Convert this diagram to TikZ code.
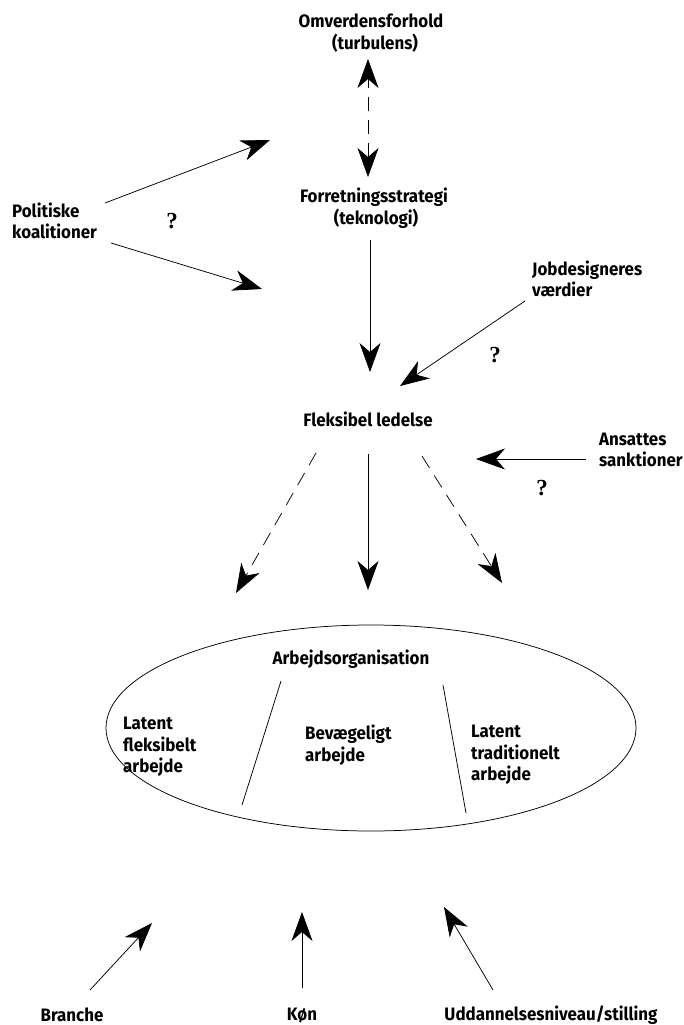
\documentclass[tikz,border=0pt]{standalone}
\usepackage{fontspec}
\usetikzlibrary{arrows.meta,shapes.geometric}
\newfontfamily\diafont{Fira Sans}[FakeStretch=0.94]
\newfontfamily\qfont{Liberation Serif}

\begin{document}
\begin{tikzpicture}[x=1pt,y=-1pt,
    txt/.style={font=\diafont\bfseries\fontsize{18}{21.5}\selectfont, inner sep=0pt},
    qm/.style={font=\qfont\bfseries\fontsize{23}{28}\selectfont, inner sep=0pt},
    arr/.style={line width=0.75pt, -{Stealth[length=29pt,width=21pt,inset=9pt]}},
    darr/.style={arr, dash pattern=on 14pt off 9pt}]
  \useasboundingbox (0,0) rectangle (683,1025);

  % top chain
  \node[txt, align=center] (omv) at (371,33) {Omverdensforhold\\\hspace*{8pt}(turbulens)};
  \node[txt, align=center] (fs) at (374,208) {Forretningsstrategi\\\hspace*{4pt}(teknologi)};
  \node[txt] (fl) at (368,419) {Fleksibel ledelse};

  \coordinate (omv-s) at (368,59);
  \coordinate (fs-n) at (368,177);
  \draw[darr, {Stealth[length=29pt,width=21pt,inset=9pt]}-{Stealth[length=29pt,width=21pt,inset=9pt]}] (fs-n) -- (omv-s);

  \coordinate (fs-s) at (370,240);
  \coordinate (fl-n) at (370,372);
  \draw[arr] (fs-s) -- (fl-n);

  % political coalitions
  \node[txt, anchor=west, align=left] (pol) at (12,221) {Politiske\\koalitioner};
  \coordinate (pol-a) at (105,203);
  \coordinate (pol-ae) at (270,140);
  \coordinate (pol-b) at (111,243);
  \coordinate (pol-be) at (262,289);
  \draw[arr] (pol-a) -- (pol-ae);
  \draw[arr] (pol-b) -- (pol-be);
  \node[qm] (q1) at (172,221) {?};

  % job designers
  \node[txt, anchor=west, align=left] (jd) at (532,279) {Jobdesigneres\\værdier};
  \coordinate (jd-s) at (525,301);
  \coordinate (jd-e) at (400,386);
  \draw[arr] (jd-s) -- (jd-e);
  \node[qm] (q2) at (495,355) {?};

  % employee sanctions
  \node[txt, anchor=west, align=left] (an) at (599,450) {Ansattes\\sanktioner};
  \coordinate (an-s) at (586,459);
  \coordinate (an-e) at (476,459);
  \draw[arr] (an-s) -- (an-e);
  \node[qm] (q3) at (542,488) {?};

  % towards work organisation
  \coordinate (fl-sw) at (316,453);
  \coordinate (fl-s) at (368,454);
  \coordinate (fl-se) at (422,456);
  \coordinate (ao-nw) at (236,593);
  \coordinate (ao-n) at (368,590);
  \coordinate (ao-ne) at (502,583);
  \draw[darr] (fl-sw) -- (ao-nw);
  \draw[arr] (fl-s) -- (ao-n);
  \draw[darr] (fl-se) -- (ao-ne);

  % work organisation
  \node[draw, line width=0.75pt, ellipse, minimum width=530pt, minimum height=206pt, inner sep=0pt] (org) at (371,728) {};
  \node[txt] (ao) at (351,659) {Arbejdsorganisation};
  \draw[line width=0.75pt] (281,681) -- (242,805);
  \draw[line width=0.75pt] (443,685) -- (466,813);
  \node[txt, anchor=west, align=left] (lf) at (123,747) {Latent\\fleksibelt\\arbejde};
  \node[txt, anchor=west, align=left] (bv) at (305,745) {Bevægeligt\\arbejde};
  \node[txt, anchor=west, align=left] (lt) at (471,755) {Latent\\traditionelt\\arbejde};

  % background factors
  \node[txt] (br) at (72,1015) {Branche};
  \node[txt] (kn) at (302,1015) {Køn};
  \node[txt] (ud) at (551,1015) {Uddannelsesniveau/stilling};
  \coordinate (br-n) at (90,990);
  \coordinate (br-e) at (152,923);
  \coordinate (kn-n) at (302,988);
  \coordinate (kn-e) at (302,912);
  \coordinate (ud-n) at (493,990);
  \coordinate (ud-e) at (444,907);
  \draw[arr] (br-n) -- (br-e);
  \draw[arr] (kn-n) -- (kn-e);
  \draw[arr] (ud-n) -- (ud-e);
\end{tikzpicture}
\end{document}
